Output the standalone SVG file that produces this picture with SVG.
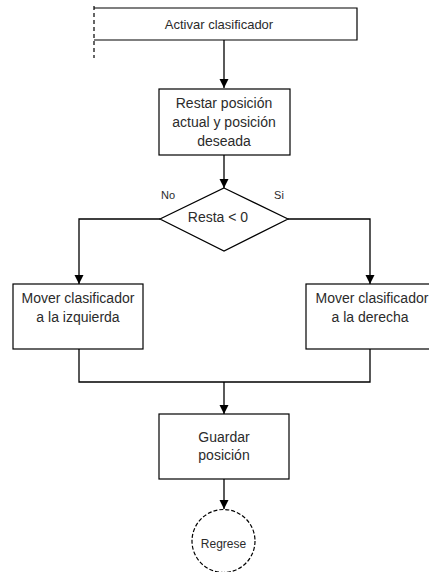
<svg xmlns="http://www.w3.org/2000/svg" width="429" height="572" viewBox="0 0 429 572">
  <style>
    .box { fill: #ffffff; stroke: #000000; stroke-width: 1.2; }
    .dash { fill: none; stroke: #000000; stroke-width: 1.2; stroke-dasharray: 4 3; }
    .edge { fill: none; stroke: #000000; stroke-width: 1.3; }
    .lbl { font-family: "Liberation Sans", Arial, sans-serif; font-size: 14px; fill: #2b2b2b; text-anchor: middle; }
    .sm { font-size: 11px; }
  </style>
  <defs>
    <marker id="arrow" markerWidth="12" markerHeight="12" refX="10" refY="6" orient="auto" markerUnits="userSpaceOnUse">
      <path d="M1,1.5 L10,6 L1,10.5 Z" fill="#000000"/>
    </marker>
  </defs>
  <rect width="429" height="572" fill="#ffffff"/>

  <!-- connectors -->
  <g id="connectors">
    <path class="edge" d="M224,40 V88" marker-end="url(#arrow)"/>
    <path class="edge" d="M224,155 V188" marker-end="url(#arrow)"/>
    <path class="edge" d="M160,219 H79 V284" marker-end="url(#arrow)"/>
    <path class="edge" d="M288,219 H370 V284" marker-end="url(#arrow)"/>
    <path class="edge" d="M79,349 V382 H370 V349"/>
    <path class="edge" d="M224,382 V414" marker-end="url(#arrow)"/>
    <path class="edge" d="M224,479 V509" marker-end="url(#arrow)"/>
  </g>

  <!-- start: Activar clasificador (left side dashed, open) -->
  <g id="activar">
    <path class="box" d="M94,8 H357 V40 H94" />
    <path class="dash" d="M94,6 V58"/>
    <text class="lbl" x="219" y="29" style="font-size:13px">Activar clasificador</text>
  </g>

  <g id="restar">
    <rect class="box" x="159" y="89" width="131" height="66"/>
    <text class="lbl" x="224" y="108">Restar posición</text>
    <text class="lbl" x="224" y="127">actual y posición</text>
    <text class="lbl" x="224" y="146">deseada</text>
  </g>

  <g id="decision">
    <polygon class="box" points="224,188 288,219 224,251 160,219"/>
    <text class="lbl" x="218" y="222">Resta &lt; 0</text>
    <text class="lbl sm" x="168" y="199">No</text>
    <text class="lbl sm" x="279" y="199">Si</text>
  </g>

  <g id="izquierda">
    <rect class="box" x="13" y="284" width="130" height="65"/>
    <text class="lbl" x="78" y="303">Mover clasificador</text>
    <text class="lbl" x="78" y="322">a la izquierda</text>
  </g>

  <g id="derecha">
    <rect class="box" x="306" y="284" width="130" height="65"/>
    <text class="lbl" x="372" y="303">Mover clasificador</text>
    <text class="lbl" x="370" y="322">a la derecha</text>
  </g>

  <g id="guardar">
    <rect class="box" x="159" y="414" width="130" height="65"/>
    <text class="lbl" x="224" y="442">Guardar</text>
    <text class="lbl" x="224" y="460">posición</text>
  </g>

  <g id="regrese">
    <circle class="dash" cx="223.5" cy="541" r="31.5" fill="#ffffff" style="stroke-dasharray:4 2"/>
    <text class="lbl" x="223.5" y="548" style="font-size:12px">Regrese</text>
  </g>
</svg>
